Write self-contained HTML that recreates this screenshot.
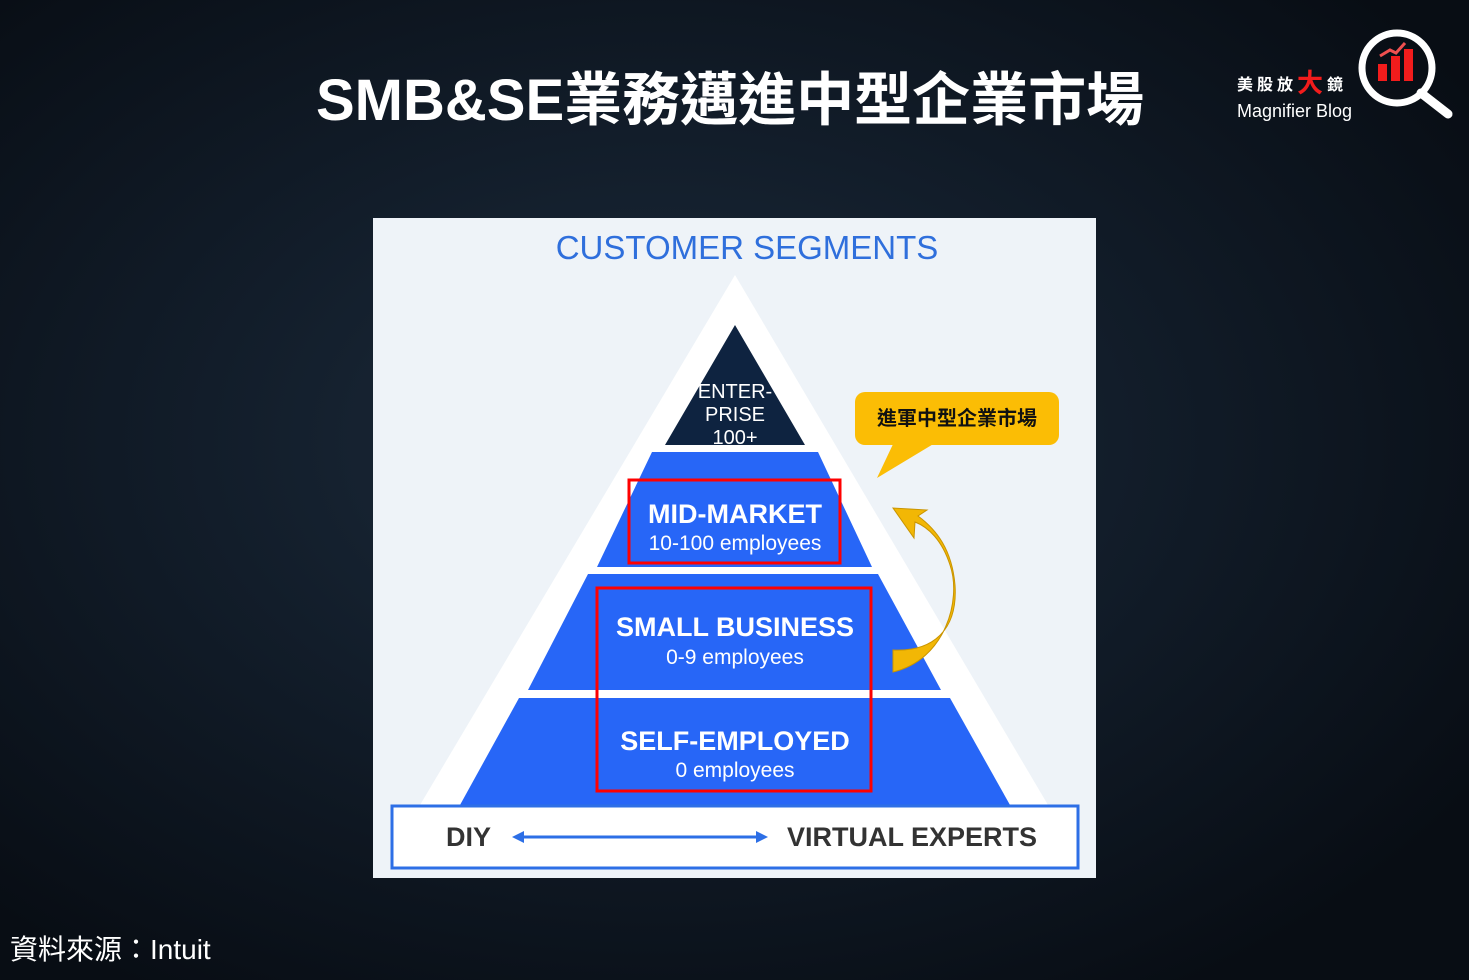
<!DOCTYPE html>
<html><head><meta charset="utf-8"><style>
html,body{margin:0;padding:0}
body{width:1469px;height:980px;overflow:hidden;position:relative;
background:radial-gradient(ellipse at 45% 45%,#1d2c3c 0%,#121d2a 40%,#080d14 85%);
font-family:"Liberation Sans","Noto Sans CJK TC",sans-serif}
.t{position:absolute;color:#fff;white-space:nowrap}
</style></head><body>
<div class="t" style="left:316px;top:61px;font-size:58px;line-height:80px;font-weight:bold">SMB&amp;SE業務邁進中型企業市場</div>
<div class="t" style="left:1237px;top:68px;font-size:16px;line-height:30px;height:30px;font-weight:bold;letter-spacing:4px">美股放<span style="color:#f21c1c;font-size:26px;vertical-align:-2px">大</span>鏡</div>
<div class="t" style="left:1237px;top:100px;font-size:18px;line-height:22px">Magnifier Blog</div>
<svg style="position:absolute;left:0;top:0" width="1469" height="980">
<circle cx="1397" cy="68" r="35" fill="none" stroke="#fff" stroke-width="7"/>
<line x1="1421" y1="93" x2="1448" y2="114" stroke="#fff" stroke-width="9" stroke-linecap="round"/>
<rect x="1378" y="64" width="9" height="17" fill="#f21c1c"/>
<rect x="1391" y="56" width="9" height="25" fill="#f21c1c"/>
<rect x="1404" y="49" width="9" height="32" fill="#f21c1c"/>
<polyline points="1380,56 1390,50 1396,53 1405,43" fill="none" stroke="#f05050" stroke-width="3"/>
<rect x="373" y="218" width="723" height="660" fill="#eef3f8"/>
<text x="747" y="259" text-anchor="middle" font-size="33" fill="#2f6fdc" font-family="Liberation Sans">CUSTOMER SEGMENTS</text>
<polygon points="735,275 420,805 1048,805" fill="#fff"/>
<polygon points="735,325 665,445 805,445" fill="#0e2340"/>
<polygon points="652,452 818,452 872,567 597,567" fill="#2766f7"/>
<polygon points="588,574 878,574 941,690 528,690" fill="#2766f7"/>
<polygon points="519,698 950,698 1010,805 460,805" fill="#2766f7"/>
<g font-family="Liberation Sans" text-anchor="middle" fill="#fff">
<text x="735" y="398" font-size="20">ENTER-</text>
<text x="735" y="421" font-size="20">PRISE</text>
<text x="735" y="444" font-size="20">100+</text>
<text x="735" y="523" font-size="27" font-weight="bold">MID-MARKET</text>
<text x="735" y="550" font-size="21">10-100 employees</text>
<text x="735" y="636" font-size="27" font-weight="bold">SMALL BUSINESS</text>
<text x="735" y="664" font-size="21">0-9 employees</text>
<text x="735" y="750" font-size="27" font-weight="bold">SELF-EMPLOYED</text>
<text x="735" y="777" font-size="21">0 employees</text>
</g>
<rect x="629" y="480" width="211" height="83" fill="none" stroke="#f00" stroke-width="3"/>
<rect x="597" y="588" width="274" height="203" fill="none" stroke="#f00" stroke-width="3"/>
<rect x="392" y="806" width="686" height="62" fill="#fff" stroke="#2d6fe6" stroke-width="3"/>
<text x="446" y="846" font-size="27" font-weight="bold" fill="#333" font-family="Liberation Sans">DIY</text>
<text x="1037" y="846" text-anchor="end" font-size="27" font-weight="bold" fill="#333" font-family="Liberation Sans">VIRTUAL EXPERTS</text>
<line x1="520" y1="837" x2="760" y2="837" stroke="#2d6fe6" stroke-width="3"/>
<polygon points="512,837 524,831 524,843" fill="#2d6fe6"/>
<polygon points="768,837 756,831 756,843" fill="#2d6fe6"/>
<rect x="855" y="392" width="204" height="53" rx="10" fill="#fbbd05"/>
<polygon points="895,440 940,440 877,478" fill="#fbbd05"/>
<text x="957" y="425" text-anchor="middle" font-size="20" font-weight="bold" fill="#111">進軍中型企業市場</text>
<path d="M893,672 C945,660 962,600 950,565 C942,540 928,527 915,522 L914,538 L893,508 L927,510 L918,516 C937,530 952,550 955,585 C958,628 935,652 893,650 Z" fill="#f2b705" stroke="#c99400" stroke-width="1"/>
</svg>
<div class="t" style="left:10px;top:932px;font-size:28px;line-height:36px">資料來源：Intuit</div>
</body></html>
